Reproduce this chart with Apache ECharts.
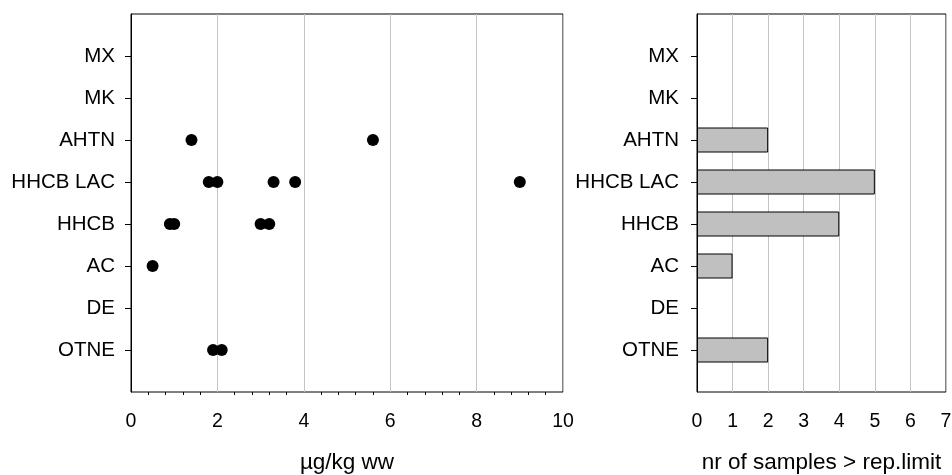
<!DOCTYPE html>
<html>
<head>
<meta charset="utf-8">
<script src="https://cdn.jsdelivr.net/npm/echarts@6/dist/echarts.min.js"></script>
<style>html,body{margin:0;padding:0;background:#fff}#c{width:952px;height:475px}</style>
</head>
<body>
<div id="c"></div>
<script>
// categories bottom -> top, padded with blank slots at both ends
var categories = ['', 'OTNE', 'DE', 'AC', 'HHCB', 'HHCB LAC', 'AHTN', 'MK', 'MX', ''];
// concentrations (µg/kg ww) per compound
var concOTNE = [1.9, 2.1];
var concAC = [0.5];
var concHHCB = [0.9, 1.0, 3.0, 3.2];
var concHHCBLAC = [1.8, 2.0, 3.3, 3.8, 9.0];
var concAHTN = [1.4, 5.6];
// number of samples above reporting limit
var countNames = ['OTNE', 'DE', 'AC', 'HHCB', 'HHCB LAC', 'AHTN', 'MK', 'MX'];
var countValues = [2, 0, 1, 4, 5, 2, 0, 0];
var leftTicks = [0, 2, 4, 6, 8, 10];
var rightTicks = [0, 1, 2, 3, 4, 5, 6, 7];

var scatterData = [];
[['OTNE', concOTNE], ['AC', concAC], ['HHCB', concHHCB], ['HHCB LAC', concHHCBLAC], ['AHTN', concAHTN]].forEach(function (p) {
  p[1].forEach(function (v) { scatterData.push([v, p[0]]); });
});
var barData = categories.map(function (c) {
  var i = countNames.indexOf(c);
  return (i < 0 || countValues[i] === 0) ? '-' : countValues[i];
});

var FONT = 'Liberation Sans, Arial, sans-serif';
function yAxis(idx, margin) {
  return {
    type: 'category', gridIndex: idx, data: categories, boundaryGap: false,
    axisLine: { lineStyle: { color: '#000', width: 1 } },
    axisTick: { length: 6, lineStyle: { color: '#000' }, interval: function (i) { return i > 0 && i < categories.length - 1; } },
    axisLabel: { margin: margin, interval: 0, color: '#000', fontFamily: FONT, fontSize: 20.5 },
    splitLine: { show: false }
  };
}
function xAxis(idx, ticks, name, minor) {
  return {
    type: 'value', gridIndex: idx, min: ticks[0], max: ticks[ticks.length - 1],
    interval: ticks[1] - ticks[0],
    name: name, nameLocation: 'middle', nameGap: 59,
    nameTextStyle: { color: '#000', fontFamily: FONT, fontSize: 22.5 },
    axisLine: { lineStyle: { color: '#000', width: 1 } },
    axisTick: { length: 6, lineStyle: { color: '#000' } },
    minorTick: { show: minor, splitNumber: 5, length: 3, lineStyle: { color: '#000' } },
    axisLabel: { margin: 20, color: '#000', fontFamily: FONT, fontSize: 19.5 },
    splitLine: { show: true, lineStyle: { color: '#c4c4c4', width: 1 } }
  };
}
var chart = echarts.init(document.getElementById('c'), null, { renderer: 'canvas' });
chart.setOption({
  animation: false,
  backgroundColor: '#fff',
  grid: [
    { left: 131, right: 389, top: 14, bottom: 83, outerBoundsMode: 'none', containLabel: false, show: true, borderColor: '#000', borderWidth: 1, backgroundColor: 'transparent' },
    { left: 697, right: 6, top: 14, bottom: 83, outerBoundsMode: 'none', containLabel: false, show: true, borderColor: '#000', borderWidth: 1, backgroundColor: 'transparent' }
  ],
  xAxis: [xAxis(0, leftTicks, 'µg/kg ww', true), xAxis(1, rightTicks, 'nr of samples > rep.limit', false)],
  yAxis: [yAxis(0, 16), yAxis(1, 18)],
  series: [
    { type: 'scatter', xAxisIndex: 0, yAxisIndex: 0, data: scatterData, symbol: 'circle', symbolSize: 12, itemStyle: { color: '#000', opacity: 1 } },
    { type: 'bar', xAxisIndex: 1, yAxisIndex: 1, data: barData, barWidth: 25, itemStyle: { color: '#c0c0c0', borderColor: '#000', borderWidth: 1 } }
  ]
});
</script>
</body>
</html>
